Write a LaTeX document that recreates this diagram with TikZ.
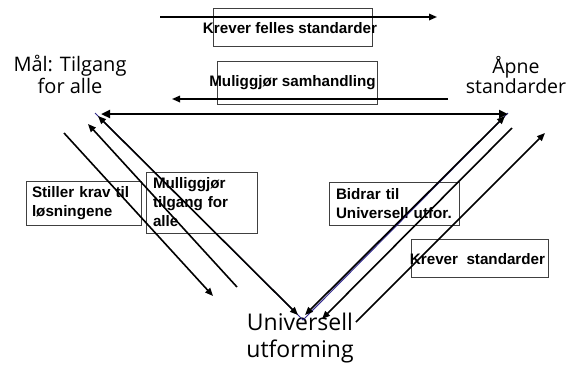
\documentclass[tikz,border=0pt]{standalone}
\usepackage{fontspec}
\setmainfont{Liberation Sans}
\newfontfamily\handfont{Open Sans}
\usetikzlibrary{arrows.meta}
\definecolor{triblue}{RGB}{50,40,140}
\begin{document}
\begin{tikzpicture}[x=1pt,y=-1pt,
  tip/.style={-{Triangle[length=8pt,width=6.5pt]}},
  arr/.style={line width=1.6pt, tip},
  darr/.style={line width=1.6pt, {Triangle[length=8pt,width=6.5pt]}-{Triangle[length=8pt,width=6.5pt]}},
  boxonly/.style={draw=black!75, line width=0.7pt, inner sep=0pt},
  txt/.style={font=\bfseries\fontsize{15.2}{18.5}\selectfont, inner sep=0pt},
  boxtxt/.style={draw=black!75, line width=0.7pt, font=\bfseries\fontsize{15.2}{18.5}\selectfont, align=left, inner ysep=0pt},
  hand/.style={font=\handfont\fontsize{20}{22}\selectfont, align=center, inner sep=0pt}
]
\useasboundingbox (0,0) rectangle (571,365);
\fill[white] (0,0) rectangle (571,365);

% corner labels
\node[hand] (goal) at (70,74) {Mål: Tilgang\\[0pt]for alle};
\node[hand, font=\handfont\fontsize{19.5}{20}\selectfont] (open) at (516,75) {Åpne\\[0pt]standarder};
\node[hand, font=\handfont\fontsize{23}{27}\selectfont] (ud) at (300,338) {Universell\\utforming};

% top boxes
\node[boxonly, minimum width=159pt, minimum height=38pt] (b1) at (292.5,27) {};
\node[txt] (t1) at (290,28) {Krever felles standarder};
\node[boxonly, minimum width=160pt, minimum height=43pt] (b2) at (297,82.5) {};
\node[txt] (t2) at (292.5,83) {Muliggjør samhandling};

% side boxes
\node[boxtxt, text width=103pt, inner xsep=6pt, minimum height=44pt] (b3) at (83.5,203) {Stiller krav til\\løsningene};
\node[boxtxt, text width=97pt, inner xsep=7pt, minimum height=61pt, font=\bfseries\fontsize{15.2}{19}\selectfont] (b4) at (201.5,202.5) {Mulliggjør\\tilgang for\\alle};
\node[boxtxt, text width=116pt, inner xsep=7pt, minimum height=43pt] (b5) at (394,203.5) {Bidrar til\\Universell utfor.};
\node[boxonly, minimum width=137pt, minimum height=38pt] (b6) at (479.5,258) {};
\node[txt] (t6) at (477.5,259) {Krever\ \ standarder};

% coordinates
\coordinate (A) at (95,113);
\coordinate (B) at (508,113);
\coordinate (C) at (303,320);

\coordinate (a1s) at (160,17);  \coordinate (a1e) at (437,17);
\coordinate (a2s) at (448,99);  \coordinate (a2e) at (172,99);
\coordinate (hL) at (101,114);  \coordinate (hR) at (508,114);
\coordinate (dL1) at (98,116);  \coordinate (dL2) at (298,315);
\coordinate (dR1) at (305,315); \coordinate (dR2) at (505,116);
\coordinate (l1s) at (64,133);  \coordinate (l1e) at (213,296);
\coordinate (l2s) at (237,287); \coordinate (l2e) at (88,124);
\coordinate (r1s) at (512,128); \coordinate (r1e) at (322,319);
\coordinate (r2s) at (356,322); \coordinate (r2e) at (545,133);

% blue triangle
\draw[triblue, line width=1pt] (A) -- (C) -- (B);

% arrows
\draw[arr] (a1s) -- (a1e);
\draw[arr] (a2s) -- (a2e);
\draw[line width=2.6pt, {Triangle[length=9pt,width=8pt]}-{Triangle[length=9pt,width=8pt]}] (hL) -- (hR);
\draw[darr] (dL1) -- (dL2);
\draw[darr] (dR1) -- (dR2);
\draw[arr] (l1s) -- (l1e);
\draw[arr] (l2s) -- (l2e);
\draw[arr] (r1s) -- (r1e);
\draw[arr] (r2s) -- (r2e);
\end{tikzpicture}
\end{document}
